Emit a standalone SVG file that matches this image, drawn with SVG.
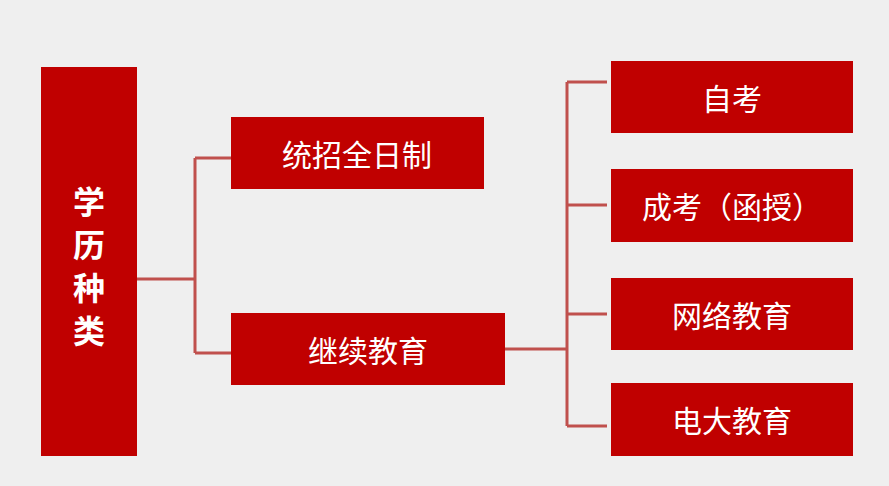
<svg xmlns="http://www.w3.org/2000/svg" width="889" height="486" viewBox="0 0 889 486">
<style>
.b{fill:#c00000}
.t{fill:#fff;font-family:"Noto Sans CJK SC","Noto Sans",sans-serif;font-size:30px;text-anchor:middle;dominant-baseline:central}
.v{font-weight:bold;font-size:32px}
.c{stroke:#c0504d;stroke-width:3;fill:none}
</style>
<rect width="889" height="486" fill="#efefef"/>
<g id="connectors" class="c">
<path d="M137 279H195M195 158V353M195 158H231M195 353H231"/>
<path d="M505 349H567M567 82V426M567 82H607M567 205H607M567 314H607M567 426H607"/>
</g>
<g id="root"><rect class="b" x="41" y="67" width="96" height="389"/>
<text class="t v" x="89" y="200">学</text><text class="t v" x="89" y="243">历</text><text class="t v" x="89" y="286">种</text><text class="t v" x="89" y="329">类</text></g>
<g id="n1"><rect class="b" x="231" y="117" width="253" height="72"/><text class="t" x="357" y="153">统招全日制</text></g>
<g id="n2"><rect class="b" x="231" y="313" width="274" height="72"/><text class="t" x="368" y="349">继续教育</text></g>
<g id="n3"><rect class="b" x="611" y="61" width="242" height="72"/><text class="t" x="732" y="97">自考</text></g>
<g id="n4"><rect class="b" x="611" y="169" width="242" height="73"/><text class="t" x="732" y="205">成考（函授）</text></g>
<g id="n5"><rect class="b" x="611" y="278" width="242" height="72"/><text class="t" x="732" y="314">网络教育</text></g>
<g id="n6"><rect class="b" x="611" y="383" width="242" height="73"/><text class="t" x="732" y="419">电大教育</text></g>
</svg>
